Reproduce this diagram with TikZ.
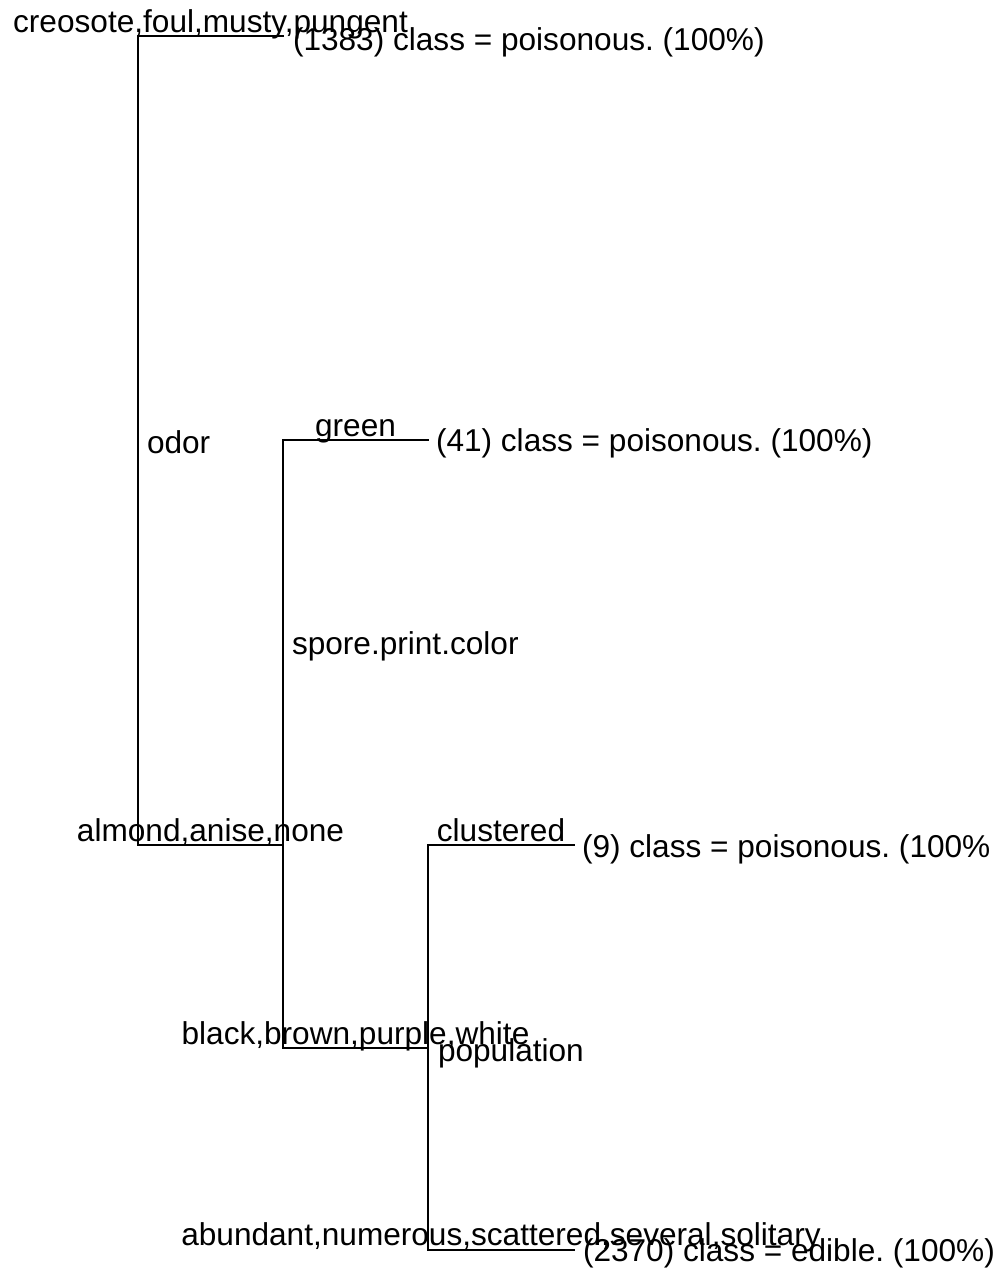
\documentclass[tikz,border=0pt]{standalone}
\usepackage{fontspec}
\setmainfont{Liberation Sans}
\frenchspacing
\begin{document}
\begin{tikzpicture}[x=1pt,y=-1pt,
  lbl/.style={inner sep=0pt, outer sep=0pt, font=\fontsize{31.6}{36}\selectfont},
  branch/.style={draw=black, line width=1.6pt, line cap=rect}]
\useasboundingbox (0,0) rectangle (1001,1272);
% tree junctions
\coordinate (r1t) at (138,36);
\coordinate (r1b) at (138,845);
\coordinate (L1)  at (283,36);
\coordinate (N2)  at (283,845);
\coordinate (N2t) at (283,440);
\coordinate (N2b) at (283,1048);
\coordinate (L2)  at (428,440);
\coordinate (N3)  at (428,1048);
\coordinate (N3t) at (428,845);
\coordinate (N3b) at (428,1250);
\coordinate (L3)  at (574,845);
\coordinate (L4)  at (574,1250);
% branches
\draw[branch] (L1) -- (r1t) -- (r1b) -- (N2);
\draw[branch] (L2) -- (N2t) -- (N2b) -- (N3);
\draw[branch] (L3) -- (N3t) -- (N3b) -- (L4);
% split labels
\node[lbl, anchor=base west] (odor) at (147,453) {odor};
\node[lbl, anchor=base west] (spc) at (292,654) {spore.print.color};
\node[lbl, anchor=base west] (pop) at (438,1061) {population};
% edge labels
\node[lbl, anchor=base] (e1) at (210.5,32) {creosote,foul,musty,pungent};
\node[lbl, anchor=base] (e2) at (210.5,841) {almond,anise,none};
\node[lbl, anchor=base] (e3) at (355.5,436) {green};
\node[lbl, anchor=base] (e4) at (355.5,1044) {black,brown,purple,white};
\node[lbl, anchor=base] (e5) at (501,841) {clustered};
\node[lbl, anchor=base] (e6) at (501,1245) {abundant,numerous,scattered,several,solitary};
% leaves
\node[lbl, anchor=base west] (lf1) at (293,50) {(1383) class = poisonous. (100\%)};
\node[lbl, anchor=base west] (lf2) at (436,451) {(41) class = poisonous. (100\%)};
\node[lbl, anchor=base west] (lf3) at (582,857) {(9) class = poisonous. (100\%};
\node[lbl, anchor=base west] (lf4) at (583,1261) {(2370) class = edible. (100\%)};
\end{tikzpicture}
\end{document}
